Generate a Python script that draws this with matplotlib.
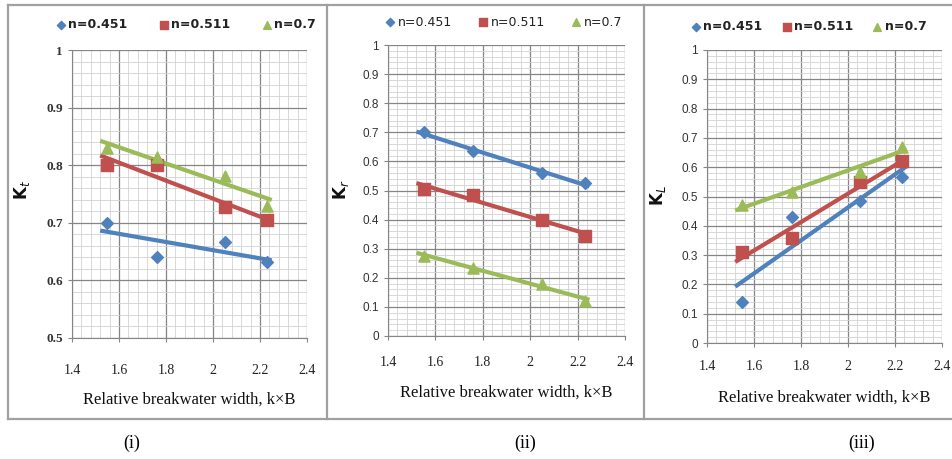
'''
Transmission, reflection and loss coefficients vs relative breakwater width
'''

# Imports
import numpy as np
import matplotlib
matplotlib.use("Agg")
import matplotlib.pyplot as plt
from matplotlib.lines import Line2D

# Data
kB = [1.55, 1.76, 2.05, 2.23]
series_names = ["n=0.451", "n=0.511", "n=0.7"]

# (i) Kt
kt_451 = [0.70, 0.64, 0.667, 0.632]
kt_511 = [0.80, 0.80, 0.727, 0.705]
kt_700 = [0.83, 0.815, 0.782, 0.73]

# (ii) Kr
kr_451 = [0.70, 0.635, 0.56, 0.525]
kr_511 = [0.505, 0.485, 0.40, 0.345]
kr_700 = [0.275, 0.235, 0.18, 0.12]

# (iii) KL
kl_451 = [0.14, 0.43, 0.485, 0.565]
kl_511 = [0.31, 0.36, 0.55, 0.62]
kl_700 = [0.47, 0.515, 0.585, 0.67]

x_ticks = [1.4, 1.6, 1.8, 2.0, 2.2, 2.4]
x_tick_labels = ["1.4", "1.6", "1.8", "2", "2.2", "2.4"]
x_label = "Relative breakwater width, k\u00d7B"
captions = ["(i)", "(ii)", "(iii)"]

# Style
W, H = 952, 459
colors = ["#4F81BD", "#C0504D", "#9BBB59"]
markers = ["D", "s", "^"]
msizes = [6, 8, 8]


def fig_box(x0, y0, x1, y1):
    # pixel box (top-left origin) -> figure fraction
    return [x0 / W, 1 - y1 / H, (x1 - x0) / W, (y1 - y0) / H]


fig = plt.figure(figsize=(W / 100, H / 100), dpi=100)
fig.patch.set_facecolor("white")

ticks_01 = list(np.round(np.arange(0, 1.01, 0.1), 1))
labels_01 = ["0", "0.1", "0.2", "0.3", "0.4", "0.5", "0.6", "0.7", "0.8", "0.9", "1"]

panels = [
    dict(data=[kt_451, kt_511, kt_700], box=(72, 50, 307, 338), ylim=(0.5, 1.0),
         yticks=[0.5, 0.6, 0.7, 0.8, 0.9, 1.0], ylabels=["0.5", "0.6", "0.7", "0.8", "0.9", "1"],
         ylab="K$_t$", ylab_pos=(22, 190), leg=(185, 25), colsp=2.4, legbold=True,
         tickfont="Liberation Serif", tickbold=True, ticksize=9.5,
         xtick_y=370, xlab_y=400, cap=(132, 443)),
    dict(data=[kr_451, kr_511, kr_700], box=(388, 45, 625, 336), ylim=(0.0, 1.0),
         yticks=ticks_01, ylabels=labels_01,
         ylab="K$_r$", ylab_pos=(341, 190), leg=(503, 22), colsp=2.0, legbold=False,
         tickfont="Liberation Sans", tickbold=False, ticksize=8.5,
         xtick_y=363, xlab_y=393, cap=(525, 443)),
    dict(data=[kl_451, kl_511, kl_700], box=(707, 50, 942, 343), ylim=(0.0, 1.0),
         yticks=ticks_01, ylabels=labels_01,
         ylab="K$_L$", ylab_pos=(658, 196), leg=(808, 27), colsp=1.4, legbold=True,
         tickfont="Liberation Sans", tickbold=False, ticksize=8.5,
         xtick_y=367, xlab_y=398, cap=(862, 443)),
]

for i, p in enumerate(panels):
    x0, y0, x1, y1 = p["box"]
    ax = fig.add_axes(fig_box(x0, y0, x1, y1))
    ax.set_xlim(1.4, 2.4)
    ax.set_ylim(*p["ylim"])

    # Grid
    ax.set_xticks(x_ticks)
    ax.set_xticks(np.arange(1.4, 2.401, 0.04), minor=True)
    ax.set_yticks(p["yticks"])
    ax.set_yticks(np.arange(p["ylim"][0], p["ylim"][1] + 0.001, 0.02), minor=True)
    ax.grid(which="major", color="#858585", lw=0.9)
    ax.grid(which="minor", color="#d2d2d2", lw=0.6)
    ax.set_axisbelow(True)
    for s in ["top", "right"]:
        ax.spines[s].set_visible(False)
    for s in ["left", "bottom"]:
        ax.spines[s].set_color("#858585")
    ax.tick_params(which="major", length=3, color="#858585")
    ax.tick_params(which="minor", length=0)

    ax.set_yticklabels(p["ylabels"], fontsize=p["ticksize"], family=p["tickfont"],
                       fontweight="bold" if p["tickbold"] else "normal", color="#333333")
    ax.set_xticklabels([])

    # x tick labels placed lower like the original
    for xt, lab in zip(x_ticks, x_tick_labels):
        fx = (x0 + (xt - 1.4) / 1.0 * (x1 - x0)) / W
        fig.text(fx, 1 - p["xtick_y"] / H, lab, ha="center", va="center",
                 fontsize=10, family="Liberation Serif", color="#222222")
    fig.text((x0 + x1) / 2 / W, 1 - p["xlab_y"] / H, x_label, ha="center", va="center",
             fontsize=12, family="Liberation Serif", color="#111111")
    fig.text(p["ylab_pos"][0] / W, 1 - p["ylab_pos"][1] / H, p["ylab"], rotation=90,
             ha="center", va="center", fontsize=12, fontweight="bold", color="#111111")
    fig.text(p["cap"][0] / W, 1 - p["cap"][1] / H, captions[i],
             ha="center", va="center", fontsize=13, family="Liberation Serif")

    # Points and linear trendlines
    handles = []
    for vals, c, m, ms, name in zip(p["data"], colors, markers, msizes, series_names):
        xs = np.array(kB)
        ys = np.array(vals)
        a, b = np.polyfit(xs, ys, 1)
        xl = np.array([xs.min() - 0.03, xs.max() + 0.02])
        ax.plot(xl, a * xl + b, color=c, lw=3, solid_capstyle="butt", zorder=3)
        h = ax.scatter(xs, ys, marker=m, s=ms ** 2, color=c, zorder=4, label=name)
        handles.append(h)

    leg = ax.legend(handles=handles, loc="center", ncol=3, frameon=False,
                    bbox_to_anchor=(p["leg"][0] / W, 1 - p["leg"][1] / H),
                    bbox_transform=fig.transFigure, fontsize=9, markerscale=0.7,
                    handletextpad=0.1, columnspacing=p["colsp"], handlelength=1.0)
    for t in leg.get_texts():
        t.set_fontweight("bold" if p["legbold"] else "normal")
        t.set_color("#222222")

# Panel frames
frame = dict(color="#a0a0a0", lw=1.6, transform=fig.transFigure)
fig.add_artist(Line2D([8 / W, 1], [1 - 5 / H, 1 - 5 / H], **frame))
fig.add_artist(Line2D([8 / W, 1], [1 - 419 / H, 1 - 419 / H], **frame))
for xv in [8, 327, 644]:
    fig.add_artist(Line2D([xv / W, xv / W], [1 - 5 / H, 1 - 419 / H], **frame))

plt.savefig("out.png", dpi=100)
